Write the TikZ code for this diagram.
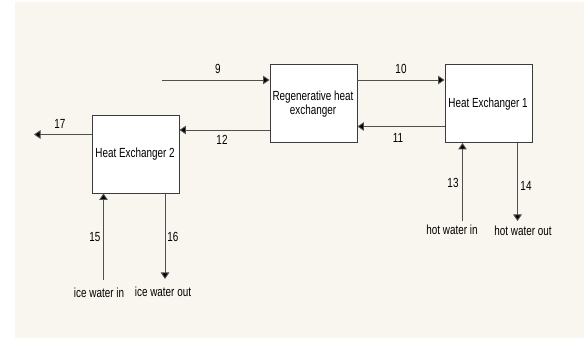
\documentclass[tikz,border=0pt]{standalone}
\usepackage{fontspec}
\setmainfont{Liberation Sans}
\newfontfamily\labfont[FakeStretch=0.75]{Liberation Sans}
\usetikzlibrary{arrows.meta}
\definecolor{bgcream}{HTML}{F9F6EF}
\definecolor{linegray}{HTML}{505050}
\definecolor{boxgray}{HTML}{3C3C3C}
\tikzset{
  unitbox/.style={draw=boxgray, line width=0.9pt, fill=white, inner sep=0pt},
  flow/.style={draw=linegray, line width=0.9pt, -{Triangle[length=6.5pt,width=8.5pt,fill=black]}},
  lbl/.style={font=\labfont\fontsize{13.2}{15}\selectfont, text=black, inner sep=0pt, align=center},
}
\begin{document}
\begin{tikzpicture}[x=1pt,y=-1pt]
\useasboundingbox (0,0) rectangle (584,339);
\fill[bgcream] (15,2) rectangle (584,338);

% boxes
\node[unitbox, minimum width=87pt, minimum height=78pt] (rhx) at (313.5,103.5) {};
\node[unitbox, minimum width=87pt, minimum height=78pt] (hx1) at (488.5,103.5) {};
\node[unitbox, minimum width=87pt, minimum height=78pt] (hx2) at (135.5,154) {};

\node[lbl] (trhx) at (313,104) {Regenerative heat\\[-1pt]exchanger};
\node[lbl] (thx1) at (488,104) {Heat Exchanger 1};
\node[lbl] (thx2) at (135,154) {Heat Exchanger 2};

% free ends
\coordinate (s9) at (161.5,80);
\coordinate (e17) at (34,134.5);
\coordinate (s15) at (103.5,280);
\coordinate (e16) at (165,279);
\coordinate (s13) at (462.5,221);
\coordinate (e14) at (517.5,221);

% streams
\draw[flow] (s9) -- (s9 -| rhx.west);
\draw[flow] (rhx.east |- s9) -- (hx1.west |- s9);
\draw[flow] (hx1.west |- 0,126.5) -- (rhx.east |- 0,126.5);
\draw[flow] (rhx.west |- 0,130) -- (hx2.east |- 0,130);
\draw[flow] (hx2.west |- e17) -- (e17);
\draw[flow] (s15) -- (s15 |- hx2.south);
\draw[flow] (e16 |- hx2.south) -- (e16);
\draw[flow] (s13) -- (s13 |- hx1.south);
\draw[flow] (e14 |- hx1.south) -- (e14);

% stream numbers
\node[lbl] (l9) at (218,69) {9};
\node[lbl] (l10) at (401,69) {10};
\node[lbl] (l11) at (398,138) {11};
\node[lbl] (l12) at (222,140) {12};
\node[lbl] (l17) at (60,124) {17};
\node[lbl] (l15) at (95,237) {15};
\node[lbl] (l16) at (173,237) {16};
\node[lbl] (l13) at (453,183) {13};
\node[lbl] (l14) at (526,186) {14};

% end labels
\node[lbl] (iwi) at (99,293) {ice water in};
\node[lbl] (iwo) at (163,292) {ice water out};
\node[lbl] (hwi) at (452,230) {hot water in};
\node[lbl] (hwo) at (523,231) {hot water out};
\end{tikzpicture}
\end{document}
